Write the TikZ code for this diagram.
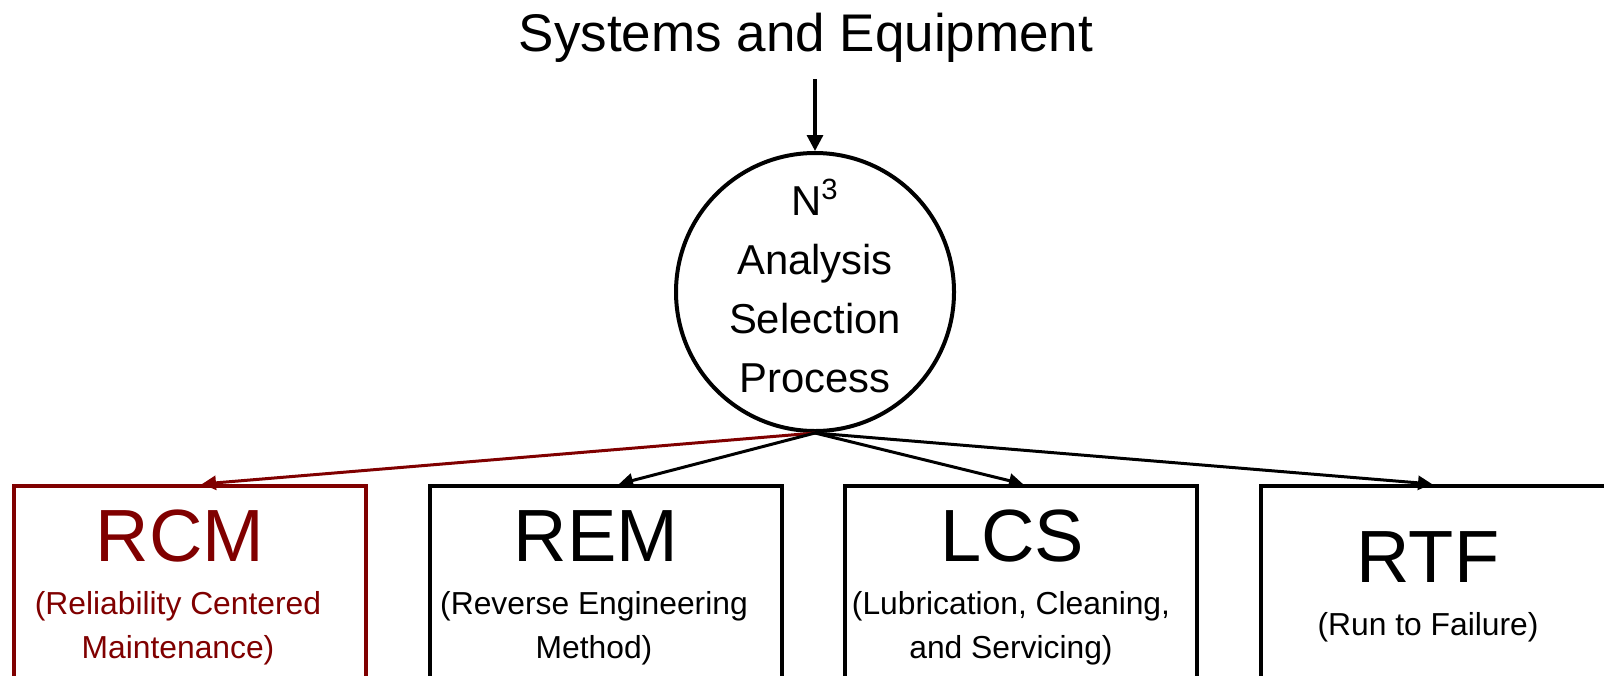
\documentclass[tikz,border=0pt]{standalone}
\usepackage{fontspec}
\setmainfont{Liberation Sans}
\usetikzlibrary{arrows.meta, positioning, shapes.geometric}
\definecolor{colRCM}{RGB}{128, 0, 0}

\begin{document}
\begin{tikzpicture}[x=0.5pt, y=-0.5pt,
    box/.style={draw, line width=1.8pt, minimum width=176pt, minimum height=130pt, anchor=north},
    abbr/.style={font=\fontsize{37}{40}\selectfont, anchor=base},
    sub/.style={font=\fontsize{15.9}{22}\selectfont, align=center},
    link/.style={-{Triangle[length=7pt, width=7pt]}, line width=1.5pt}]
    \useasboundingbox (0, 0) rectangle (1604, 675);
    \clip (0, 0) rectangle (1604, 675);

    % --- Top: input ---
    \node[font=\fontsize{26.5}{32}\selectfont, anchor=base] (title) at (806, 51) {Systems and Equipment};

    % --- Middle: selection process ---
    \node[circle, draw, line width=2pt, minimum size=139pt] (nsel) at (815, 292) {};
    \node[align=center, font=\fontsize{20.9}{29.5}\selectfont] (nseltxt) at ([yshift=3pt]nsel.center)
        {N\textsuperscript{3}\\Analysis\\Selection\\Process};
    \draw[-{Triangle[length=8pt, width=8pt]}, line width=1.6pt]
        ([yshift=-5pt]nsel.north |- title.south) -- (nsel.north);

    % --- Box 1: RCM ---
    \node[box, draw=colRCM] (rcm) at (190, 484) {};
    \node[abbr, colRCM] (rcmabbr) at (180, 561) {RCM};
    \node[sub, colRCM] (rcmsub) at (178, 628) {(Reliability Centered\\Maintenance)};

    % --- Box 2: REM ---
    \node[box] (rem) at (606, 484) {};
    \node[abbr] (remabbr) at (596, 561) {REM};
    \node[sub] (remsub) at (594, 628) {(Reverse Engineering\\Method)};

    % --- Box 3: LCS ---
    \node[box] (lcs) at (1021, 484) {};
    \node[abbr] (lcsabbr) at (1012, 561) {LCS};
    \node[sub] (lcssub) at (1011, 628) {(Lubrication, Cleaning,\\and Servicing)};

    % --- Box 4: RTF ---
    \node[box] (rtf) at (1437, 484) {};
    \node[abbr] (rtfabbr) at (1428, 582) {RTF};
    \node[sub] (rtfsub) at (1428, 627) {(Run to Failure)};

    % Arrows down to the four methods
    \draw[link, colRCM] (nsel.south) -- ([xshift=6pt]rcm.north);
    \draw[link] (nsel.south) -- ([xshift=6.5pt]rem.north);
    \draw[link] (nsel.south) -- ([xshift=1pt]lcs.north);
    \draw[link] (nsel.south) -- ([xshift=-2.5pt]rtf.north);
\end{tikzpicture}
\end{document}
